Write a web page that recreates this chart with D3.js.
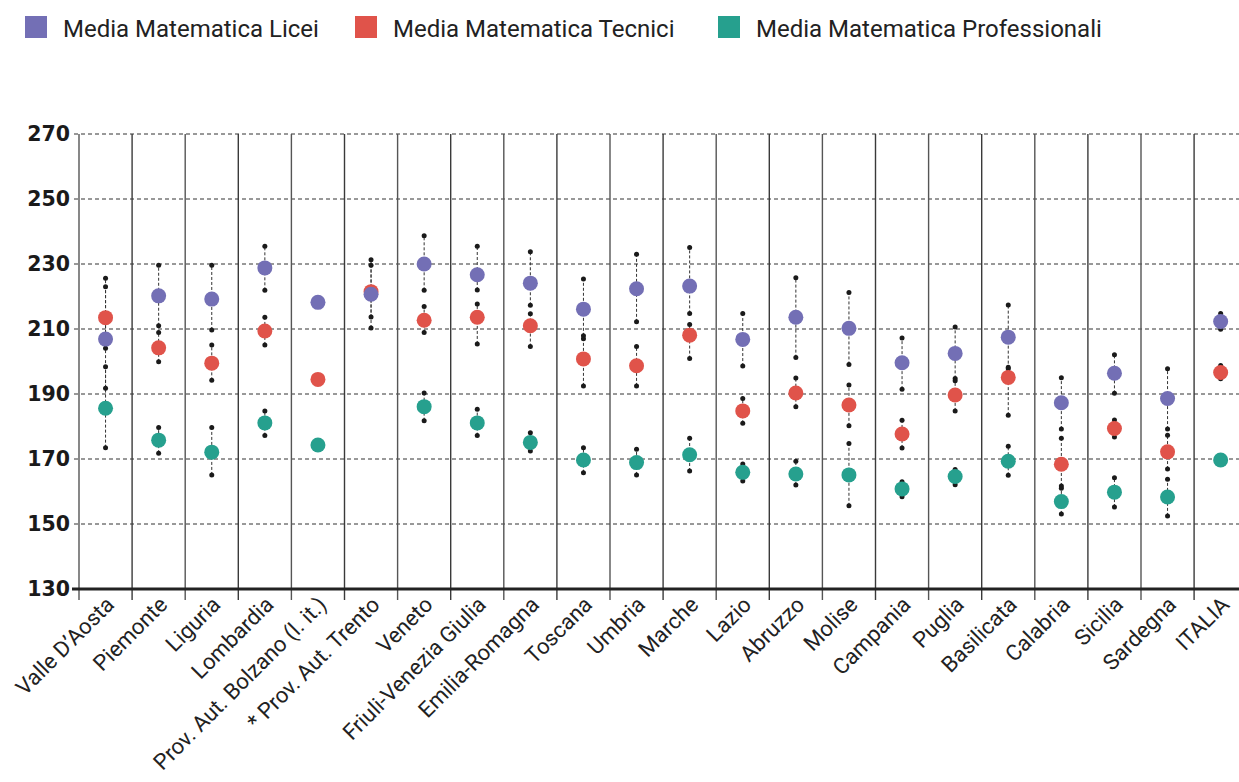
<!DOCTYPE html>
<html>
<head>
<meta charset="utf-8">
<script src="https://cdn.jsdelivr.net/npm/d3@7"></script>
<style>
  html, body { margin: 0; padding: 0; background: #fff; }
  svg { display: block; }
</style>
</head>
<body>
<svg id="chart" width="1239" height="782"></svg>
<script>
const categories = ["Valle D’Aosta", "Piemonte", "Liguria", "Lombardia", "Prov. Aut. Bolzano (l. it.)", "* Prov. Aut. Trento", "Veneto", "Friuli-Venezia Giulia", "Emilia-Romagna", "Toscana", "Umbria", "Marche", "Lazio", "Abruzzo", "Molise", "Campania", "Puglia", "Basilicata", "Calabria", "Sicilia", "Sardegna", "ITALIA"];

const licei     = [206.9, 220.2, 219.2, 228.8, 218.2, 220.7, 230.0, 226.7, 224.1, 216.1, 222.4, 223.2, 206.8, 213.6, 210.2, 199.6, 202.5, 207.5, 187.3, 196.4, 188.6, 212.3];
const liceiLo   = [191.8, 211.0, 209.7, 221.9, null, 213.7, 221.9, 222.0, 217.3, 207.9, 212.2, 214.8, 198.6, 201.2, 199.1, 191.5, 194.8, 197.8, 179.2, 190.2, 179.2, 209.9];
const liceiHi   = [223.0, 229.6, 229.6, 235.5, null, 229.6, 238.7, 235.5, 233.8, 225.4, 233.0, 235.1, 214.8, 225.8, 221.2, 207.2, 210.6, 217.4, 195.0, 202.1, 197.8, 214.8];

const tecnici   = [213.5, 204.2, 199.5, 209.4, 194.5, 221.5, 212.7, 213.6, 211.0, 200.8, 198.7, 208.1, 184.8, 190.3, 186.6, 177.7, 189.7, 195.1, 168.4, 179.4, 172.2, 196.6];
const tecniciLo = [204.1, 199.9, 194.2, 205.1, null, 210.3, 208.9, 205.4, 204.6, 192.5, 192.5, 200.9, 181.0, 186.1, 180.2, 173.4, 184.8, 183.5, 161.7, 176.8, 166.9, 194.7];
const tecniciHi = [225.6, 208.9, 205.1, 213.6, null, 231.3, 216.9, 217.7, 214.7, 207.0, 204.6, 211.4, 188.6, 194.9, 192.8, 181.9, 194.1, 198.2, 176.4, 182.0, 177.3, 198.8];

const prof      = [185.6, 175.8, 172.1, 181.1, 174.3, null, 186.1, 181.1, 175.1, 169.7, 168.9, 171.3, 165.9, 165.4, 165.1, 160.8, 164.6, 169.3, 156.9, 159.8, 158.3, 169.7];
const profLo    = [173.5, 171.8, 165.1, 177.2, null, null, 181.8, 177.2, 172.5, 165.8, 165.1, 166.3, 163.2, 162.0, 155.6, 158.4, 162.1, 165.0, 153.1, 155.2, 152.5, 168.7];
const profHi    = [198.4, 179.7, 179.7, 184.8, null, null, 190.3, 185.3, 178.1, 173.5, 173.0, 176.4, 168.5, 169.3, 174.8, 163.0, 166.8, 173.9, 161.0, 164.2, 163.8, 170.7];

const yTicks = [130, 150, 170, 190, 210, 230, 250, 270];
const seriesNames = ["Media Matematica Licei", "Media Matematica Tecnici", "Media Matematica Professionali"];
const seriesColors = ["#736fb5", "#e0534a", "#26a08e"];

(function () {
const svg = d3.select("#chart");
const pLeft = 79, pTop = 134, pBottom = 589, step = 53.1;

const x = d3.scaleBand().domain(categories).range([pLeft, pLeft + step * categories.length]).padding(0);
const y = d3.scaleLinear().domain([130, 270]).range([pBottom, pTop]);

// legend
const legendX = [25, 355, 718];
const lg = svg.append("g");
seriesNames.forEach((n, i) => {
  lg.append("rect").attr("x", legendX[i]).attr("y", 16).attr("width", 22).attr("height", 22).attr("fill", seriesColors[i]);
  lg.append("text").attr("x", legendX[i] + 38).attr("y", 37)
    .attr("font-family", "Roboto, 'Noto Sans', sans-serif").attr("font-size", 24).attr("fill", "#222")
    .text(n);
});

// horizontal dashed gridlines
svg.append("g").selectAll("line").data(yTicks.filter(t => t > 130)).join("line")
  .attr("x1", 74).attr("x2", 1239)
  .attr("y1", d => y(d)).attr("y2", d => y(d))
  .attr("stroke", "#333").attr("stroke-width", 1).attr("stroke-dasharray", "4,3");

// vertical category separators
const bounds = d3.range(categories.length + 1).map(i => pLeft + i * step);
svg.append("g").selectAll("line").data(bounds).join("line")
  .attr("x1", d => d).attr("x2", d => d)
  .attr("y1", pTop).attr("y2", pBottom + 11)
  .attr("stroke", (d, i) => i % 2 ? "#3a3a3a" : "#555").attr("stroke-width", 1.4);

// baseline
svg.append("line").attr("x1", 72).attr("x2", 1239).attr("y1", y(130)).attr("y2", y(130))
  .attr("stroke", "#222").attr("stroke-width", 3);

// y tick labels
svg.append("g").selectAll("text").data(yTicks).join("text")
  .attr("x", 70).attr("y", d => y(d)).attr("dy", "0.36em")
  .attr("text-anchor", "end")
  .attr("font-family", "'DejaVu Sans', sans-serif").attr("font-weight", "bold").attr("font-size", 20.5)
  .attr("fill", "#1a1a1a")
  .text(d => d);

// x labels
svg.append("g").selectAll("text").data(categories).join("text")
  .attr("transform", d => `translate(${x(d) + x.bandwidth() / 2 + 10},${pBottom + 17}) rotate(-45)`)
  .attr("text-anchor", "end")
  .attr("font-family", "Roboto, 'Noto Sans', sans-serif").attr("font-size", 22).attr("fill", "#222")
  .text(d => d);

// series data
const series = [
  { mean: licei, lo: liceiLo, hi: liceiHi, color: seriesColors[0] },
  { mean: tecnici, lo: tecniciLo, hi: tecniciHi, color: seriesColors[1] },
  { mean: prof, lo: profLo, hi: profHi, color: seriesColors[2] }
];
const cx = i => x(categories[i]) + x.bandwidth() / 2;

const gLines = svg.append("g"), gSmall = svg.append("g"), gBig = svg.append("g");
series.forEach(s => {
  const rows = categories.map((c, i) => ({ i, lo: s.lo[i], hi: s.hi[i] })).filter(r => r.lo != null);
  gLines.selectAll(null).data(rows).join("line")
    .attr("x1", r => cx(r.i)).attr("x2", r => cx(r.i))
    .attr("y1", r => y(r.lo)).attr("y2", r => y(r.hi))
    .attr("stroke", "#333").attr("stroke-width", 1).attr("stroke-dasharray", "3,2");
  const pts = rows.flatMap(r => [{ i: r.i, v: r.lo }, { i: r.i, v: r.hi }]);
  gSmall.selectAll(null).data(pts).join("circle")
    .attr("cx", p => cx(p.i)).attr("cy", p => y(p.v)).attr("r", 2.5).attr("fill", "#1a1a1a");
});
[2, 1, 0].forEach(k => {
  const s = series[k];
  const rows = categories.map((c, i) => ({ i, v: s.mean[i] })).filter(r => r.v != null);
  gBig.selectAll(null).data(rows).join("circle")
    .attr("cx", r => cx(r.i)).attr("cy", r => y(r.v)).attr("r", 7.5).attr("fill", s.color);
});
})();
</script>
</body>
</html>
